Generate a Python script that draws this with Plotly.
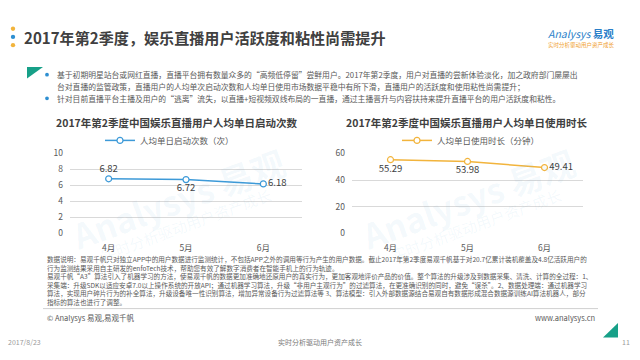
import plotly.graph_objects as go

# ---------------- data ----------------
months = ["4月", "5月", "6月"]
launches = [6.82, 6.72, 6.18]          # 人均单日启动次数（次）
duration = [55.29, 53.98, 49.41]       # 人均单日使用时长（分钟）
launch_ticks = [0, 2, 4, 6, 8, 10]
duration_ticks = [0, 20, 40, 60]
launch_label_pos = ["top center", "bottom center", "middle right"]
duration_label_pos = ["bottom center", "bottom center", "middle right"]

title_text = "2017年第2季度，娱乐直播用户活跃度和粘性尚需提升"
chart1_title = "2017年第2季度中国娱乐直播用户人均单日启动次数"
chart2_title = "2017年第2季度中国娱乐直播用户人均单日使用时长"
series1_name = "人均单日启动次数（次）"
series2_name = "人均单日使用时长（分钟）"

bullets = [
    "基于初期明星站台或网红直播，直播平台拥有数量众多的“高频低停留”尝鲜用户。2017年第2季度，用户对直播的尝新体验淡化，加之政府部门屡屡出",
    "台对直播的监管政策，直播用户的人均单次启动次数和人均单日使用市场数据平稳中有所下滑，直播用户的活跃度和使用粘性尚需提升；",
    "针对目前直播平台主播及用户的“逃离”流失，以直播+短视频双线布局的一直播，通过主播晋升与内容扶持来提升直播平台的用户活跃度和粘性。",
]
notes = [
    "数据说明：易观千帆只对独立APP中的用户数据进行监测统计，不包括APP之外的调用等行为产生的用户数据。截止2017年第2季度易观千帆基于对20.7亿累计装机覆盖及4.8亿活跃用户的",
    "行为监测结果采用自主研发的enfoTech技术，帮助您有效了解数字消费者在智能手机上的行为轨迹。",
    "易观千帆“A3”算法引入了机器学习的方法，使易观千帆的数据更加准确地还原用户的真实行为，更加客观地评价产品的价值。整个算法的升级涉及到数据采集、清洗、计算的全过程：1、",
    "采集端：升级SDK以适应安卓7.0以上操作系统的开放API；通过机器学习算法，升级“非用户主观行为”的过滤算法，在更准确识别的同时，避免“误杀”。2、数据处理端：通过机器学习",
    "算法，实现用户碎片行为的补全算法，升级设备唯一性识别算法，增加异常设备行为过滤算法等 3、算法模型：引入外部数据源结合易观自有数据形成混合数据源训练AI算法机器人，部分",
    "指标的算法也进行了调整。",
]

W, H = 640, 360
FONT = "Noto Sans CJK SC"
BLUE = "#3d9ad8"
ORANGE = "#f2b43c"
GREEN = "#17a088"
DARK = "#404040"
GRAY = "#595959"


def px(x):
    return x / W


def py(y):
    return 1 - y / H


fig = go.Figure()

fig.add_trace(go.Scatter(
    x=months, y=launches, name=series1_name, mode="lines+markers+text",
    text=[f"{v:.2f}" for v in launches], textposition=launch_label_pos,
    textfont=dict(size=9.5, color=DARK, family=FONT),
    line=dict(color=BLUE, width=1.5),
    marker=dict(symbol="circle", size=6, color="white", line=dict(color=BLUE, width=1.2)),
    cliponaxis=False, xaxis="x", yaxis="y", legend="legend", showlegend=True,
))
fig.add_trace(go.Scatter(
    x=months, y=duration, name=series2_name, mode="lines+markers+text",
    text=[f"{v:.2f}" for v in duration], textposition=duration_label_pos,
    textfont=dict(size=9.5, color=DARK, family=FONT),
    line=dict(color=ORANGE, width=1.5),
    marker=dict(symbol="circle", size=6, color="white", line=dict(color=ORANGE, width=1.2)),
    cliponaxis=False, xaxis="x2", yaxis="y2", legend="legend2", showlegend=True,
))

axis_common = dict(showline=False, zeroline=False, ticks="",
                   tickfont=dict(size=8.5, color=GRAY, family=FONT))
fig.update_layout(
    width=W, height=H, margin=dict(l=0, r=0, t=0, b=0),
    paper_bgcolor="white", plot_bgcolor="white", showlegend=True,
    font=dict(family=FONT, color=GRAY),
    xaxis=dict(domain=[px(70), px(302)], range=[-0.5, 2.5], showgrid=False,
               ticklabelstandoff=8, **axis_common),
    yaxis=dict(domain=[py(234), py(151.5)], range=[0, 10], tickvals=launch_ticks,
               showgrid=True, gridcolor="#d9d9d9", gridwidth=1,
               ticklabelstandoff=6, **axis_common),
    xaxis2=dict(domain=[px(352), px(583)], range=[-0.5, 2.5], showgrid=False,
                ticklabelstandoff=8, anchor="y2", **axis_common),
    yaxis2=dict(domain=[py(234), py(151.5)], range=[0, 60], tickvals=duration_ticks,
                showgrid=True, gridcolor="#d9d9d9", gridwidth=1, anchor="x2",
                ticklabelstandoff=6, **axis_common),
    legend=dict(x=px(100), y=py(138), xanchor="left", yanchor="middle",
                font=dict(size=8.5, color=GRAY, family=FONT), bgcolor="rgba(0,0,0,0)",
                itemwidth=30),
    legend2=dict(x=px(397), y=py(138), xanchor="left", yanchor="middle",
                 font=dict(size=8.5, color=GRAY, family=FONT), bgcolor="rgba(0,0,0,0)",
                 itemwidth=30),
)

ann = []


def text(x, y, s, size, color, xanchor="left", bold=False, **kw):
    ann.append(dict(x=px(x), y=py(y), xref="paper", yref="paper", text=(f"<b>{s}</b>" if bold else s),
                    showarrow=False, xanchor=xanchor, yanchor="middle",
                    font=dict(size=size, color=color, family=FONT), **kw))


# watermarks
for cx in (178, 468):
    text(cx, 198, "Analysys 易观", 34, "rgba(90,160,215,0.07)", xanchor="center", textangle=-20, bold=True)
    text(cx + 8, 225, "实时分析驱动用户资产成长", 15, "rgba(90,160,215,0.07)", xanchor="center", textangle=-20)

text(22, 31.5, title_text, 15.1, DARK, bold=True)
# logo
text(581, 27, "<i>Analysys</i> <b>易观</b>", 10.5, "#2a7fc9", xanchor="center")
text(581, 39, "实时分析驱动用户资产成长", 5.5, "#f0a030", xanchor="center")

bullet_y = [70, 82, 94.5]
for s, yy in zip(bullets, bullet_y):
    text(55, yy, s, 7.8, GRAY)

text(176, 120, chart1_title, 10.5, DARK, xanchor="center", bold=True)
text(466, 120, chart2_title, 10.5, DARK, xanchor="center", bold=True)

ann.append(dict(x=px(45), y=py(253.5), xref="paper", yref="paper", text="<br>".join(notes),
                showarrow=False, xanchor="left", yanchor="top", align="left",
                font=dict(size=6.6, color=GRAY, family=FONT)))

text(45, 321, "© Analysys 易观,易观千帆", 7.5, GRAY)
text(597, 321, "www.analysys.cn", 7.5, GRAY, xanchor="right")
text(6, 347, "2017/8/23", 7, "#9a9a9a")
text(320, 347, "实时分析驱动用户资产成长", 7, "#7a7a7a", xanchor="center")
text(632, 347, "11", 7, "#9a9a9a", xanchor="right")

shapes = []
# title dots
for yy, c in ((22.5, ORANGE), (31, "#2e8fd1"), (39.5, ORANGE)):
    r = 2.2
    shapes.append(dict(type="circle", xref="paper", yref="paper",
                       x0=px(13 - r), x1=px(13 + r), y0=py(yy + r), y1=py(yy - r),
                       fillcolor=c, line=dict(width=0)))
# bullet dots
for yy in (70, 94.5):
    r = 1.9
    shapes.append(dict(type="circle", xref="paper", yref="paper",
                       x0=px(47 - r), x1=px(47 + r), y0=py(yy + r), y1=py(yy - r),
                       fillcolor="#2e8fd1", line=dict(width=0)))
# green triangles
shapes.append(dict(type="path", xref="paper", yref="paper",
                   path=f"M {px(27)},{py(62)} L {px(43)},{py(62)} L {px(27)},{py(74)} Z",
                   fillcolor=GREEN, line=dict(width=0)))
shapes.append(dict(type="path", xref="paper", yref="paper",
                   path=f"M {px(603)},{py(342)} L {px(618)},{py(342)} L {px(618)},{py(327)} Z",
                   fillcolor=GREEN, line=dict(width=0)))
# separator
shapes.append(dict(type="line", xref="paper", yref="paper", x0=px(43), x1=px(598),
                   y0=py(312), y1=py(312), line=dict(color="#d0d0d0", width=1)))

fig.update_layout(annotations=ann, shapes=shapes)
fig.write_html("out.html", config={"displayModeBar": False},
               post_script="document.body.style.margin='0';document.body.style.overflow='hidden';")
